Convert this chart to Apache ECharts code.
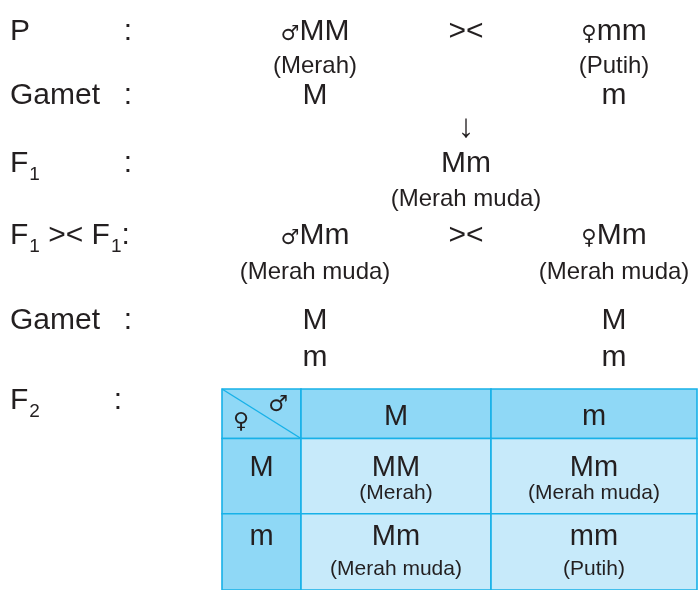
<!DOCTYPE html>
<html><head><meta charset="utf-8">
<script src="https://cdn.jsdelivr.net/npm/echarts@6/dist/echarts.min.js"></script>
<style>html,body{margin:0;padding:0;background:#fff}#c{width:698px;height:590px}</style>
</head><body><div id="c"></div>
<script>
// ---------------- data ----------------
const stageLabels = ['P', 'Gamet', 'F1', 'F1 >< F1:', 'Gamet', 'F2'];
const crossSymbol = '><';
const parentsP = ['♂MM', '♀mm'];
const phenoP = ['(Merah)', '(Putih)'];
const gametesP = ['M', 'm'];
const arrowSymbol = '↓';
const f1Genotype = ['Mm'];
const f1Phenotype = ['(Merah muda)'];
const parentsF1 = ['♂Mm', '♀Mm'];
const phenoF1 = ['(Merah muda)', '(Merah muda)'];
const gametesF1Male = ['M', 'm'];
const gametesF1Female = ['M', 'm'];
const punnettMale = ['M', 'm'];
const punnettFemale = ['M', 'm'];
const punnettGenotype = [['MM', 'Mm'], ['Mm', 'mm']];
const punnettPhenotype = [['(Merah)', '(Merah muda)'], ['(Merah muda)', '(Putih)']];

// ---------------- layout / style ----------------
const FONT = '"Liberation Sans", Arial, Helvetica, sans-serif';
const SYM = '"DejaVu Sans", sans-serif';
const INK = '#231f20';
const MAIN = 30, SUBLBL = 24, SUBSCR = 19, SYMSIZE = 21, ARROW = 33;
const LAY = {
  labelX: 10, colonX: 128, colonX2: 118,
  colL: 315, colM: 466, colR: 614,
  yP: 32, yPhenoP: 66, yGametP: 96, yArrow: 128, yF1: 164, yF1Pheno: 199,
  yCross2: 236, yPheno2: 272, yGamet2a: 321, yGamet2b: 358, yF2: 401
};
const TABLE = { left: 222, top: 389, width: 475, height: 203 };
const colEdges = [0, 79, 269, 475];
const rowEdges = [0, 50, 126, 203];
const rowMainDy = [28, 29, 23];
const rowPhenoDy = [0, 55, 55];
const DARK = '#8fd8f6', LIGHT = '#c7eafa', BORDER = '#17b1e8';

const ctx = document.createElement('canvas').getContext('2d');
function measure(t, size, fam) { ctx.font = size + 'px ' + fam; return ctx.measureText(t).width; }
function seq(parts, x, y, align) {
  const ws = parts.map(p => measure(p.text, p.size, p.family || FONT) + (p.gap || 0));
  const total = ws.reduce((a, b) => a + b, 0);
  let cur = align === 'center' ? x - total / 2 : (align === 'right' ? x - total : x);
  return parts.map((p, i) => {
    const fam = p.family || FONT;
    const el = { type: 'text', x: cur + (p.pre || 0), y: y + (p.dy || 0), silent: true, z: 10,
      style: { text: p.text, font: p.size + 'px ' + fam, fill: INK,
        textAlign: 'left', textVerticalAlign: 'middle', align: 'left', verticalAlign: 'middle' } };
    cur += ws[i];
    return el;
  });
}
const base = (big, small) => 0.3465 * (big - small);
function genoParts(str, size) {
  const c = str.charAt(0);
  if (c === '♂' || c === '♀') {
    return [{ text: c, size: SYMSIZE, family: SYM, dy: base(size, SYMSIZE) - 1 },
            { text: str.slice(1), size: size }];
  }
  return [{ text: str, size: size }];
}
function stageParts(str) {
  const parts = [];
  const re = /F(\d)/g; let last = 0, m;
  while ((m = re.exec(str))) {
    if (m.index > last) parts.push({ text: str.slice(last, m.index), size: MAIN });
    parts.push({ text: 'F', size: MAIN });
    parts.push({ text: m[1], size: SUBSCR, dy: 11, pre: 1, gap: 1 });
    last = m.index + m[0].length;
  }
  if (last < str.length) parts.push({ text: str.slice(last), size: MAIN });
  return parts;
}
const txt = (s, size) => [{ text: s, size: size }];

const els = [];
const stageY = [LAY.yP, LAY.yGametP, LAY.yF1, LAY.yCross2, LAY.yGamet2a, LAY.yF2];
stageLabels.forEach((s, i) => {
  els.push(...seq(stageParts(s), LAY.labelX, stageY[i], 'left'));
  if (s.indexOf(':') < 0) {
    els.push(...seq(txt(':', MAIN), i === 5 ? LAY.colonX2 : LAY.colonX, stageY[i], 'center'));
  }
});
// P
els.push(...seq(genoParts(parentsP[0], MAIN), LAY.colL, LAY.yP, 'center'));
els.push(...seq(txt(crossSymbol, MAIN), LAY.colM, LAY.yP, 'center'));
els.push(...seq(genoParts(parentsP[1], MAIN), LAY.colR, LAY.yP, 'center'));
els.push(...seq(txt(phenoP[0], SUBLBL), LAY.colL, LAY.yPhenoP, 'center'));
els.push(...seq(txt(phenoP[1], SUBLBL), LAY.colR, LAY.yPhenoP, 'center'));
els.push(...seq(txt(gametesP[0], MAIN), LAY.colL, LAY.yGametP, 'center'));
els.push(...seq(txt(gametesP[1], MAIN), LAY.colR, LAY.yGametP, 'center'));
els.push(...seq(txt(arrowSymbol, ARROW), LAY.colM, LAY.yArrow, 'center'));
els.push(...seq(txt(f1Genotype[0], MAIN), LAY.colM, LAY.yF1, 'center'));
els.push(...seq(txt(f1Phenotype[0], SUBLBL), LAY.colM, LAY.yF1Pheno, 'center'));
// F1 x F1
els.push(...seq(genoParts(parentsF1[0], MAIN), LAY.colL, LAY.yCross2, 'center'));
els.push(...seq(txt(crossSymbol, MAIN), LAY.colM, LAY.yCross2, 'center'));
els.push(...seq(genoParts(parentsF1[1], MAIN), LAY.colR, LAY.yCross2, 'center'));
els.push(...seq(txt(phenoF1[0], SUBLBL), LAY.colL, LAY.yPheno2, 'center'));
els.push(...seq(txt(phenoF1[1], SUBLBL), LAY.colR, LAY.yPheno2, 'center'));
els.push(...seq(txt(gametesF1Male[0], MAIN), LAY.colL, LAY.yGamet2a, 'center'));
els.push(...seq(txt(gametesF1Male[1], MAIN), LAY.colL, LAY.yGamet2b, 'center'));
els.push(...seq(txt(gametesF1Female[0], MAIN), LAY.colR, LAY.yGamet2a, 'center'));
els.push(...seq(txt(gametesF1Female[1], MAIN), LAY.colR, LAY.yGamet2b, 'center'));

// Punnett cells
const cells = [];
for (let r = 0; r < 3; r++) for (let c = 0; c < 3; c++) cells.push([c, r]);

function cellText(text, x, y, size, fam) {
  return { type: 'text', x: x, y: y, silent: true,
    style: { text: text, font: size + 'px ' + (fam || FONT), fill: INK,
      textAlign: 'center', textVerticalAlign: 'middle', align: 'center', verticalAlign: 'middle' } };
}

function renderCell(params, api) {
  const c = api.value(0), r = api.value(1);
  const p0 = api.coord([colEdges[c], rowEdges[r]]);
  const p1 = api.coord([colEdges[c + 1], rowEdges[r + 1]]);
  const x = p0[0], y = Math.min(p0[1], p1[1]);
  const w = p1[0] - p0[0], h = Math.abs(p1[1] - p0[1]);
  const children = [{ type: 'rect', shape: { x: x, y: y, width: w, height: h },
    style: { fill: (r === 0 || c === 0) ? DARK : LIGHT, stroke: BORDER, lineWidth: 1.6 } }];
  const cx = x + w / 2;
  if (r === 0 && c === 0) {
    children.push({ type: 'line', shape: { x1: x, y1: y, x2: x + w, y2: y + h },
      style: { stroke: BORDER, lineWidth: 1.4 } });
    children.push(cellText('♂', x + 56, y + 16, 22, SYM));
    children.push(cellText('♀', x + 19, y + 33, 22, SYM));
  } else if (r === 0) {
    children.push(cellText(punnettMale[c - 1], cx, y + rowMainDy[0], 29));
  } else if (c === 0) {
    children.push(cellText(punnettFemale[r - 1], cx, y + rowMainDy[r], 29));
  } else {
    children.push(cellText(punnettGenotype[r - 1][c - 1], cx, y + rowMainDy[r], 29));
    children.push(cellText(punnettPhenotype[r - 1][c - 1], cx, y + rowPhenoDy[r], 21));
  }
  return { type: 'group', children: children };
}

const chart = echarts.init(document.getElementById('c'), null, { renderer: 'canvas' });
chart.setOption({
  backgroundColor: '#ffffff',
  animation: false,
  grid: { left: TABLE.left, top: TABLE.top, width: TABLE.width, height: TABLE.height, containLabel: false },
  xAxis: { type: 'value', min: 0, max: colEdges[colEdges.length - 1], show: false },
  yAxis: { type: 'value', min: 0, max: rowEdges[rowEdges.length - 1], inverse: true, show: false },
  series: [{ type: 'custom', silent: true, renderItem: renderCell, data: cells,
    clip: false, emphasis: { disabled: true } }],
  graphic: { elements: els }
});
</script></body></html>
